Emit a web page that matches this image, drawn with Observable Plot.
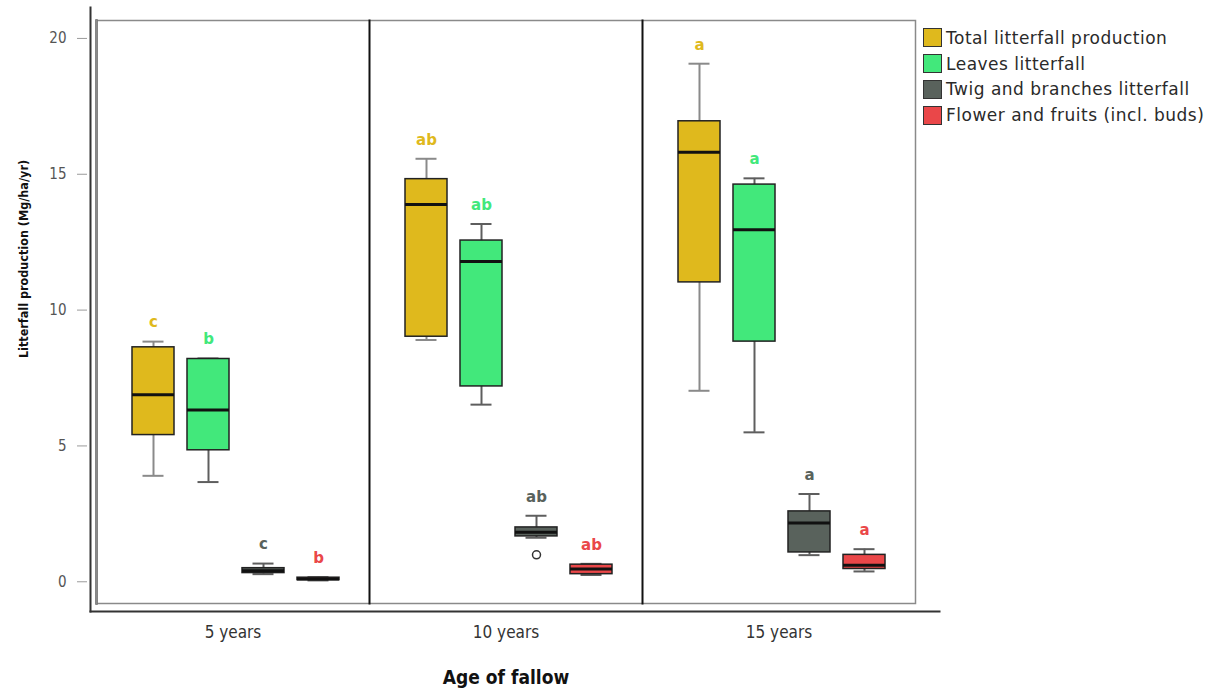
<!DOCTYPE html>
<html>
<head>
<meta charset="utf-8">
<script src="https://cdn.jsdelivr.net/npm/d3@7"></script>
<script src="https://cdn.jsdelivr.net/npm/@observablehq/plot@0.6"></script>
<style>
  html, body { margin: 0; padding: 0; background: #fff; }
  #wrap { position: relative; width: 1226px; height: 691px; }
  #legend { position: absolute; left: 923px; top: 25px; font-family: "DejaVu Sans", sans-serif; font-size: 17px; letter-spacing: 0.5px; color: #2a2a2a; }
  .row { display: flex; align-items: center; height: 25.8px; white-space: nowrap; }
  .sw { width: 17px; height: 17px; border: 1.5px solid #333; margin-right: 4px; box-sizing: content-box; flex: none; }
</style>
</head>
<body>
<div id="wrap"><div id="legend"></div></div>
<script>
// ---- data ----
const ages = ["5 years", "10 years", "15 years"];
const components = [
  "Total litterfall production",
  "Leaves litterfall",
  "Twig and branches litterfall",
  "Flower and fruits (incl. buds)"
];
const fillColors = ["#dfb91d", "#42e87b", "#59625c", "#ea4749"];
const whiskerColors = ["#8a8a8a", "#5e5e5e", "#5e5e5e", "#5e5e5e"];
// rows: ages, columns: components
const whiskerLow  = [[3.90, 3.67, 0.28, 0.05], [8.90, 6.52, 1.62, 0.25], [7.03, 5.50, 0.98, 0.38]];
const quart1      = [[5.40, 4.84, 0.32, 0.06], [9.02, 7.19, 1.67, 0.28], [11.02, 8.84, 1.08, 0.47]];
const medians     = [[6.88, 6.32, 0.41, 0.10], [13.89, 11.79, 1.82, 0.47], [15.81, 12.96, 2.16, 0.61]];
const quart3      = [[8.63, 8.20, 0.50, 0.15], [14.82, 12.56, 2.00, 0.63], [16.95, 14.62, 2.59, 0.99]];
const whiskerHigh = [[8.84, 8.22, 0.67, 0.17], [15.57, 13.17, 2.43, 0.66], [19.07, 14.85, 3.23, 1.20]];
const letters     = [["c", "b", "c", "b"], ["ab", "ab", "ab", "ab"], ["a", "a", "a", "a"]];
const outlierAges = ["10 years"];
const outlierComps = ["Twig and branches litterfall"];
const outlierValues = [0.99];
const yTicks = [0, 5, 10, 15, 20];
const yLabel = "Litterfall production (Mg/ha/yr)";
const xLabel = "Age of fallow";

// ---- table ----
const rows = [];
ages.forEach((age, i) => components.forEach((comp, j) => rows.push({
  age, comp,
  lo: whiskerLow[i][j], q1: quart1[i][j], med: medians[i][j],
  q3: quart3[i][j], hi: whiskerHigh[i][j], letter: letters[i][j],
  wc: whiskerColors[j]
})));
const outliers = outlierValues.map((v, k) => ({age: outlierAges[k], comp: outlierComps[k], value: v}));

const narrow = "'Liberation Sans Narrow', 'DejaVu Sans Condensed', sans-serif";

const chart = Plot.plot({
  width: 1226,
  height: 691,
  marginLeft: 95,
  marginRight: 310,
  marginTop: 20,
  marginBottom: 88,
  style: {background: "white"},
  fx: {domain: ages, padding: 0, axis: null},
  x: {domain: components, axis: null, paddingInner: 0.245, paddingOuter: 0, insetLeft: 35, insetRight: 29.7},
  y: {domain: [-0.8, 20.66]},
  color: {domain: components, range: fillColors},
  marks: [
    Plot.frame({facet: "super", stroke: "#8a8a8a", strokeWidth: 1.5}),
    Plot.frame({anchor: "left", stroke: "#111", strokeWidth: 2}),
    Plot.frame({facet: "super", anchor: "left", stroke: "#8a8a8a", strokeWidth: 2.4}),
    Plot.frame({facet: "super", anchor: "left", dx: -6, insetTop: -13, insetBottom: -8, stroke: "#333", strokeWidth: 2}),
    Plot.frame({facet: "super", anchor: "bottom", dy: 8, insetLeft: -6, insetRight: -24, stroke: "#333", strokeWidth: 2}),
    Plot.axisY({ticks: yTicks, tickSize: 10, tickPadding: 11, dx: -9, fontSize: 15,
      fontFamily: "'DejaVu Sans Condensed', sans-serif", stroke: "#9a9a9a", fill: "#555", label: null}),
    Plot.axisFx({anchor: "bottom", tickSize: 0, tickPadding: 22, fontSize: 17, fontFamily: narrow, fill: "#333", label: null}),
    Plot.text([yLabel], {facet: "super", frameAnchor: "left", textAnchor: "middle", rotate: -90, dx: -73, dy: -53,
      fontWeight: "bold", fontSize: 12.5, fontFamily: narrow, fill: "#111"}),
    Plot.text([xLabel], {facet: "super", frameAnchor: "bottom", dy: 80,
      fontWeight: "bold", fontSize: 19, fontFamily: narrow, fill: "#111"}),
    // whiskers
    Plot.ruleX(rows, {fx: "age", x: "comp", y1: "lo", y2: "hi", stroke: (d) => d.wc, strokeWidth: 2}),
    Plot.tickY(rows, {fx: "age", x: "comp", y: "lo", stroke: (d) => d.wc, strokeWidth: 2, insetLeft: 10.5, insetRight: 10.5}),
    Plot.tickY(rows, {fx: "age", x: "comp", y: "hi", stroke: (d) => d.wc, strokeWidth: 2, insetLeft: 10.5, insetRight: 10.5}),
    // boxes
    Plot.barY(rows, {fx: "age", x: "comp", y1: "q1", y2: "q3", fill: "comp", stroke: "#222", strokeWidth: 1.5}),
    Plot.tickY(rows, {fx: "age", x: "comp", y: "med", stroke: "#111", strokeWidth: 3}),
    Plot.dot(outliers, {fx: "age", x: "comp", y: "value", r: 4, stroke: "#333", fill: "white", strokeWidth: 1.5}),
    // significance letters
    Plot.text(rows, {fx: "age", x: "comp", y: "hi", dy: -19, text: "letter", fill: "comp",
      fontWeight: "bold", fontSize: 15, fontFamily: "'DejaVu Sans', sans-serif"})
  ]
});
document.getElementById("wrap").prepend(chart);

const legend = document.getElementById("legend");
components.forEach((c, i) => {
  const row = document.createElement("div");
  row.className = "row";
  const sw = document.createElement("span");
  sw.className = "sw";
  sw.style.background = fillColors[i];
  const t = document.createElement("span");
  t.textContent = c;
  row.append(sw, t);
  legend.append(row);
});
</script>
</body>
</html>
